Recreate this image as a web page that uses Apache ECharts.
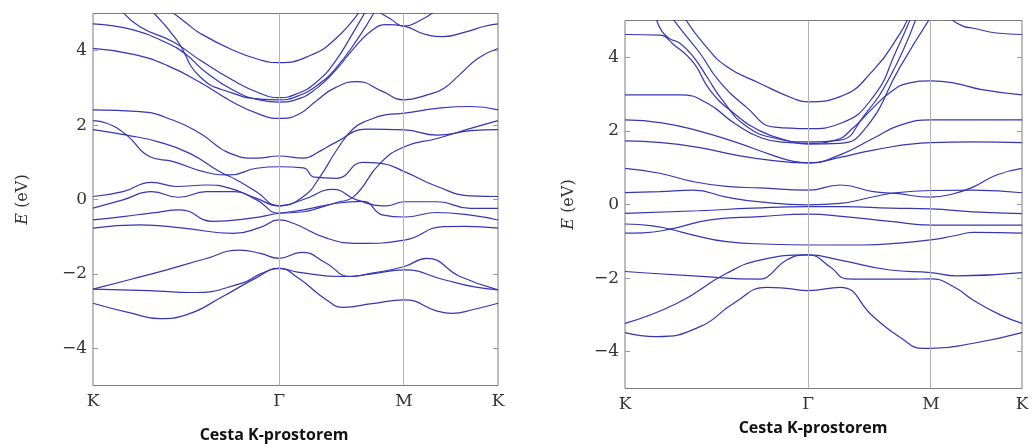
<!DOCTYPE html>
<html>
<head>
<meta charset="utf-8">
<script src="https://cdn.jsdelivr.net/npm/echarts@6/dist/echarts.min.js"></script>
<style>
  html, body { margin: 0; padding: 0; background: #fff; }
  #chart { width: 1032px; height: 444px; }
</style>
</head>
<body>
<div id="chart"></div>
<script>
// k-path positions (K, Γ, M, K) on each panel, E ticks
const kNames = ['K', 'Γ', 'M', 'K'];
const kLeft = [0, 1, 1.672, 2.177];
const kRight = [0, 1, 1.672, 2.169];
const eTicks = [-4, -2, 0, 2, 4];

// left panel bands: [k, E (eV)]
const leftBands = [
    [[0.41,5.1],[0.5,4.75],[0.575,4.47],[0.75,4.02],[0.9,3.75],[1,3.68],[1.167,3.87],[1.3,4.3],[1.44,5.1]],
    [[0.15,5.1],[0.25,4.65],[0.43,4.24],[0.575,3.75],[0.75,3.21],[0.9,2.85],[1,2.74],[1.1,2.85],[1.2,3.15],[1.3,3.7],[1.4,4.5],[1.47,5.1]],
    [[0.31,5.1],[0.45,4.29],[0.575,3.3],[0.75,2.86],[0.9,2.7],[1,2.68],[1.1,2.78],[1.2,3.05],[1.3,3.5],[1.42,4.3],[1.52,5.1]],
    [[0,4.72],[0.217,4.56],[0.4,4.2],[0.5,3.9],[0.6,3.45],[0.75,2.95],[0.9,2.67],[1,2.62],[1.1,2.7],[1.2,2.98],[1.3,3.45],[1.4,4.05],[1.5,4.55],[1.58,4.7],[1.672,4.66],[1.78,4.45],[1.883,4.38],[2.0,4.5],[2.1,4.65],[2.177,4.72]],
    [[1.52,5.1],[1.6,4.85],[1.672,4.66],[1.76,4.82],[1.85,5.1]],
    [[0,4.06],[0.217,3.9],[0.4,3.6],[0.575,3.15],[0.75,2.62],[0.9,2.28],[1,2.18],[1.1,2.28],[1.2,2.65],[1.3,3.0],[1.42,3.17],[1.55,2.92],[1.672,2.68],[1.8,2.82],[1.883,2.98],[1.97,3.35],[2.07,3.8],[2.177,4.06]],
    [[0,2.41],[0.253,2.36],[0.432,2.13],[0.575,1.78],[0.737,1.24],[0.88,1.11],[1,1.17],[1.131,1.11],[1.22,1.3],[1.31,1.55],[1.47,1.89],[1.674,1.87],[1.85,1.73],[2.03,1.85],[2.177,1.88]],
    [[0,2.12],[0.074,2.05],[0.181,1.73],[0.306,1.15],[0.432,1.02],[0.593,0.75],[0.737,0.66],[0.88,0.84],[1,0.88],[1.131,0.85],[1.19,0.6],[1.31,0.57],[1.45,1.0],[1.55,0.97],[1.674,0.75],[1.85,0.35],[2.03,0.1],[2.177,0.08]],
    [[0,1.88],[0.181,1.73],[0.35,1.55],[0.52,1.24],[0.68,0.75],[0.77,0.53],[0.88,0.2],[1,-0.17],[1.131,0.08],[1.22,0.61],[1.31,1.33],[1.4,1.91],[1.48,2.13],[1.578,2.28],[1.674,2.32],[1.85,2.45],[2.03,2.5],[2.177,2.41]],
    [[0,0.08],[0.161,0.21],[0.315,0.46],[0.45,0.35],[0.61,0.39],[0.737,0.3],[0.88,0.03],[1,-0.17],[1.131,0.0],[1.29,0.27],[1.417,-0.01],[1.578,-0.17],[1.674,-0.06],[1.85,-0.06],[2.03,-0.24],[2.177,-0.24]],
    [[0,-0.23],[0.161,-0.01],[0.315,0.21],[0.46,0.06],[0.61,0.21],[0.75,0.21],[0.88,-0.01],[1,-0.37],[1.131,-0.33],[1.22,-0.22],[1.31,-0.08],[1.4,0.07],[1.543,0.97],[1.674,1.42],[1.85,1.64],[2.03,1.91],[2.177,2.12]],
    [[0,-0.55],[0.161,-0.46],[0.32,-0.36],[0.468,-0.28],[0.647,-0.59],[0.85,-0.5],[1,-0.37],[1.131,-0.28],[1.31,-0.1],[1.45,-0.05],[1.56,-0.42],[1.674,-0.47],[1.85,-0.35],[2.03,-0.42],[2.177,-0.55]],
    [[0,-0.77],[0.253,-0.68],[0.487,-0.77],[0.754,-0.91],[0.9,-0.75],[1,-0.55],[1.077,-0.64],[1.256,-1.04],[1.436,-1.18],[1.674,-1.09],[1.883,-0.73],[2.0,-0.72],[2.177,-0.77]],
    [[0,-2.41],[0.2,-2.15],[0.396,-1.89],[0.6,-1.6],[0.79,-1.36],[0.9,-1.45],[1,-1.58],[1.122,-1.42],[1.25,-1.7],[1.382,-2.07],[1.5,-1.98],[1.674,-1.8],[1.794,-1.58],[1.973,-2.07],[2.177,-2.43]],
    [[0,-2.41],[0.3,-2.45],[0.54,-2.5],[0.8,-2.25],[0.9,-2.0],[1,-1.85],[1.1,-1.95],[1.346,-2.07],[1.5,-2.0],[1.674,-1.89],[1.883,-2.15],[2.05,-2.35],[2.177,-2.43]],
    [[0,-2.79],[0.2,-3.05],[0.36,-3.2],[0.5,-3.1],[0.7,-2.6],[0.88,-2.1],[1,-1.85],[1.1,-2.1],[1.256,-2.7],[1.346,-2.9],[1.5,-2.8],[1.674,-2.7],[1.85,-3.0],[1.93,-3.06],[2.05,-2.95],[2.177,-2.79]]
];

// right panel bands: [k, E (eV)]
const rightBands = [
    [[0.328,5.05],[0.428,4.38],[0.555,3.75],[0.738,3.29],[0.92,2.88],[1,2.79],[1.175,2.93],[1.357,3.65],[1.503,4.65],[1.545,5.05]],
    [[0.26,5.05],[0.337,4.56],[0.41,4.11],[0.51,3.38],[0.66,2.66],[0.82,2.1],[1,2.06],[1.175,2.2],[1.357,2.93],[1.484,4.2],[1.56,5.05]],
    [[0.17,5.05],[0.2,4.72],[0.24,4.52],[0.3,4.38],[0.373,4.02],[0.45,3.45],[0.53,2.85],[0.66,2.14],[0.82,1.8],[1,1.7],[1.175,1.75],[1.302,2.39],[1.448,3.47],[1.59,5.05]],
    [[0,4.62],[0.19,4.6],[0.265,4.35],[0.373,3.86],[0.464,3.11],[0.59,2.5],[0.738,2.0],[0.9,1.72],[1,1.64],[1.175,1.66],[1.32,2.11],[1.503,3.74],[1.665,5.05]],
    [[0,2.98],[0.3,2.98],[0.45,2.75],[0.6,2.2],[0.75,1.8],[0.9,1.68],[1,1.66],[1.15,1.75],[1.25,2.1],[1.35,2.6],[1.45,3.05],[1.55,3.3],[1.672,3.36],[1.8,3.3],[1.95,3.12],[2.169,2.98]],
    [[0,2.3],[0.2,2.22],[0.4,2.0],[0.6,1.7],[0.8,1.35],[0.92,1.17],[1,1.13],[1.175,1.35],[1.357,1.8],[1.5,2.15],[1.672,2.3],[1.9,2.3],[2.169,2.3]],
    [[0,1.73],[0.2,1.68],[0.4,1.55],[0.6,1.35],[0.8,1.2],[1,1.13],[1.175,1.28],[1.357,1.48],[1.672,1.68],[1.9,1.7],[2.169,1.68]],
    [[1.776,5.05],[1.85,4.84],[1.904,4.79],[2.03,4.66],[2.169,4.62]],
    [[0,0.98],[0.19,0.85],[0.373,0.62],[0.555,0.49],[0.738,0.45],[1,0.39],[1.175,0.53],[1.357,0.35],[1.48,0.3],[1.672,0.2],[1.8,0.3],[1.904,0.48],[2.03,0.8],[2.169,0.98]],
    [[0,0.32],[0.19,0.35],[0.373,0.39],[0.555,0.2],[0.738,0.07],[1,-0.01],[1.175,0.03],[1.357,0.21],[1.48,0.32],[1.672,0.38],[1.904,0.39],[2.169,0.32]],
    [[0,-0.24],[0.4,-0.17],[0.7,-0.1],[1,-0.06],[1.2,-0.06],[1.45,-0.1],[1.672,-0.12],[1.9,-0.2],[2.169,-0.25]],
    [[0,-0.53],[0.15,-0.58],[0.246,-0.67],[0.373,-0.83],[0.555,-1.01],[0.8,-1.08],[1,-1.1],[1.3,-1.1],[1.5,-1.05],[1.672,-0.96],[1.8,-0.85],[1.904,-0.76],[2.169,-0.78]],
    [[0,-0.78],[0.1,-0.77],[0.246,-0.67],[0.464,-0.42],[0.738,-0.33],[1,-0.26],[1.2,-0.33],[1.45,-0.46],[1.672,-0.56],[1.9,-0.56],[2.169,-0.56]],
    [[0,-1.82],[0.373,-1.94],[0.74,-2.03],[0.775,-1.98],[0.883,-1.51],[1,-1.37],[1.175,-1.51],[1.448,-1.78],[1.672,-1.85],[1.81,-1.94],[2.169,-1.85]],
    [[0,-3.23],[0.282,-2.69],[0.555,-1.87],[0.738,-1.51],[1,-1.37],[1.12,-1.69],[1.211,-2.02],[1.3,-2.03],[1.55,-2.03],[1.672,-2.02],[1.8,-2.25],[1.903,-2.6],[2.05,-3.0],[2.169,-3.23]],
    [[0,-3.48],[0.17,-3.59],[0.41,-3.32],[0.592,-2.69],[0.775,-2.25],[0.883,-2.28],[1,-2.34],[1.175,-2.25],[1.357,-3.05],[1.5,-3.6],[1.63,-3.91],[1.672,-3.91],[1.904,-3.77],[2.169,-3.48]]
];

const bandColor = '#3636b4';
const serif = '"DejaVu Serif", "Liberation Serif", serif';

function kLabel(ticks) {
    return function (v) {
        const i = ticks.findIndex(t => Math.abs(t - v) < 1e-6);
        return i >= 0 ? kNames[i] : '';
    };
}

function eLabel(v) {
    return v < 0 ? '\u2212' + (-v) : String(v);
}

function makeX(idx, ticks) {
    return {
        type: 'value', gridIndex: idx, min: 0, max: ticks[ticks.length - 1],
        axisLine: { show: false },
        axisTick: { show: false },
        splitLine: { show: false },
        axisLabel: {
            customValues: ticks, formatter: kLabel(ticks), margin: 8,
            fontFamily: serif, fontSize: 17, color: '#333'
        }
    };
}

function makeY(idx, gap) {
    return [{
        type: 'value', gridIndex: idx, min: -5, max: 5, position: 'left',
        axisLine: { show: false },
        axisTick: { customValues: eTicks, inside: true, length: 5, lineStyle: { color: '#999' } },
        splitLine: { show: false },
        axisLabel: { customValues: eTicks, formatter: eLabel, margin: 6, fontFamily: serif, fontSize: 17, color: '#333' },
        name: '{i|E} (eV)', nameLocation: 'middle', nameGap: gap, nameRotate: 90,
        nameTextStyle: {
            fontFamily: serif, fontSize: 16, color: '#333',
            rich: { i: { fontFamily: serif, fontStyle: 'italic', fontSize: 16, color: '#333' } }
        }
    }, {
        type: 'value', gridIndex: idx, min: -5, max: 5, position: 'right',
        axisLine: { show: false },
        axisTick: { customValues: eTicks, inside: true, length: 5, lineStyle: { color: '#999' } },
        axisLabel: { show: false },
        splitLine: { show: false }
    }];
}

function bandSeries(bands, idx, ticks) {
    return bands.map((b, i) => {
        const s = {
            type: 'line', xAxisIndex: idx, yAxisIndex: idx * 2, data: b,
            showSymbol: false, symbol: 'none', smooth: 0.5,
            lineStyle: { color: bandColor, width: 1.2 }, silent: true, z: 3
        };
        if (i === 0) {
            s.markLine = {
                silent: true, symbol: ['none', 'none'], label: { show: false },
                lineStyle: { color: '#b4b4b4', type: 'solid', width: 1 },
                data: [{ xAxis: ticks[1] }, { xAxis: ticks[2] }]
            };
        }
        return s;
    });
}

const chart = echarts.init(document.getElementById('chart'));
chart.setOption({
    animation: false,
    backgroundColor: '#fff',
    grid: [
        { left: 93, top: 13.5, width: 405, height: 372, show: true, borderColor: '#7a7a7a', borderWidth: 1 },
        { left: 625, top: 20.5, width: 397, height: 368, show: true, borderColor: '#7a7a7a', borderWidth: 1 }
    ],
    xAxis: [makeX(0, kLeft), makeX(1, kRight)],
    yAxis: makeY(0, 62).concat(makeY(1, 48)),
    series: bandSeries(leftBands, 0, kLeft).concat(bandSeries(rightBands, 1, kRight)),
    graphic: [
        { type: 'text', x: 274, y: 435, style: { text: 'Cesta K-prostorem', font: 'bold 16px "Open Sans", sans-serif', fill: '#111', textAlign: 'center', textVerticalAlign: 'middle' } },
        { type: 'text', x: 813, y: 428, style: { text: 'Cesta K-prostorem', font: 'bold 16px "Open Sans", sans-serif', fill: '#111', textAlign: 'center', textVerticalAlign: 'middle' } }
    ]
});
</script>
</body>
</html>
